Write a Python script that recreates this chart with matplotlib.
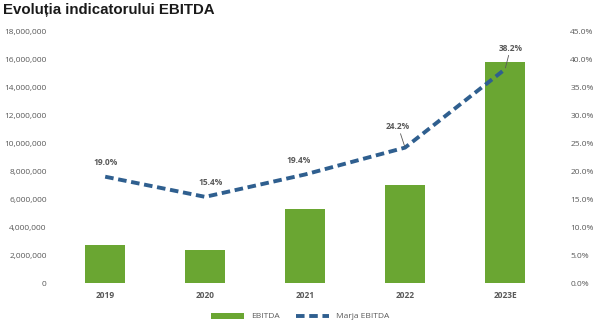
import matplotlib.pyplot as plt
from matplotlib.ticker import FuncFormatter

years = ['2019', '2020', '2021', '2022', '2023E']
ebitda = [2700000, 2350000, 5300000, 6980000, 15800000]
marja = [19.0, 15.4, 19.4, 24.2, 38.2]

plt.rcParams['font.family'] = ['Open Sans', 'DejaVu Sans']
grey = '#595959'

fig = plt.figure(figsize=(6, 3.28), dpi=100)
ax = fig.add_axes([0.092, 0.137, 0.833, 0.768])
x = list(range(len(years)))
ax.bar(x, ebitda, width=0.4, color='#6AA632', label='EBITDA', zorder=2)
ax.set_ylim(0, 18000000)
ax.set_yticks(range(0, 18000001, 2000000))
ax.yaxis.set_major_formatter(FuncFormatter(lambda v, p: f'{v:,.0f}'))
ax.set_xlim(-0.5, len(years) - 0.5)
ax.set_xticks(x)
ax.set_xticklabels(years, fontweight='bold')

ax2 = ax.twinx()
ax2.plot(x, marja, color='#2F5F8F', lw=2.8, ls=(0, (2.2, 1.2)), label='Marja EBITDA', zorder=3)
ax2.set_ylim(0, 45)
ax2.set_yticks(range(0, 46, 5))
ax2.yaxis.set_major_formatter(FuncFormatter(lambda v, p: f'{v:.1f}%'))

offsets = [(0, 7), (4, 7), (-5, 7), (-5, 12), (4, 12)]
for xi, m, off in zip(x, marja, offsets):
    lead = off[1] > 10
    ax2.annotate(f'{m:.1f}%', (xi, m), xytext=off, textcoords='offset points',
                 ha='center', va='bottom', fontsize=6, color=grey, fontweight='bold',
                 arrowprops=dict(arrowstyle='-', color=grey, lw=0.6, shrinkA=0, shrinkB=1) if lead else None)

for a in (ax, ax2):
    for s in a.spines.values():
        s.set_visible(False)
    a.tick_params(length=0, labelsize=6, labelcolor=grey)
ax.tick_params(axis='y', pad=6)
ax2.tick_params(axis='y', pad=11)
ax.tick_params(axis='x', pad=6)

h1, l1 = ax.get_legend_handles_labels()
h2, l2 = ax2.get_legend_handles_labels()
fig.legend(h1 + h2, l1 + l2, loc='lower center', bbox_to_anchor=(0.5, 0.0), ncol=2,
           frameon=False, fontsize=6, labelcolor=grey, handlelength=4, columnspacing=2)

fig.text(0.005, 0.99, 'Evoluția indicatorului EBITDA', fontsize=10.8, fontweight='bold',
         family='Liberation Sans', va='top', ha='left', color='#1a1a1a')

fig.savefig('out.png', dpi=100)
